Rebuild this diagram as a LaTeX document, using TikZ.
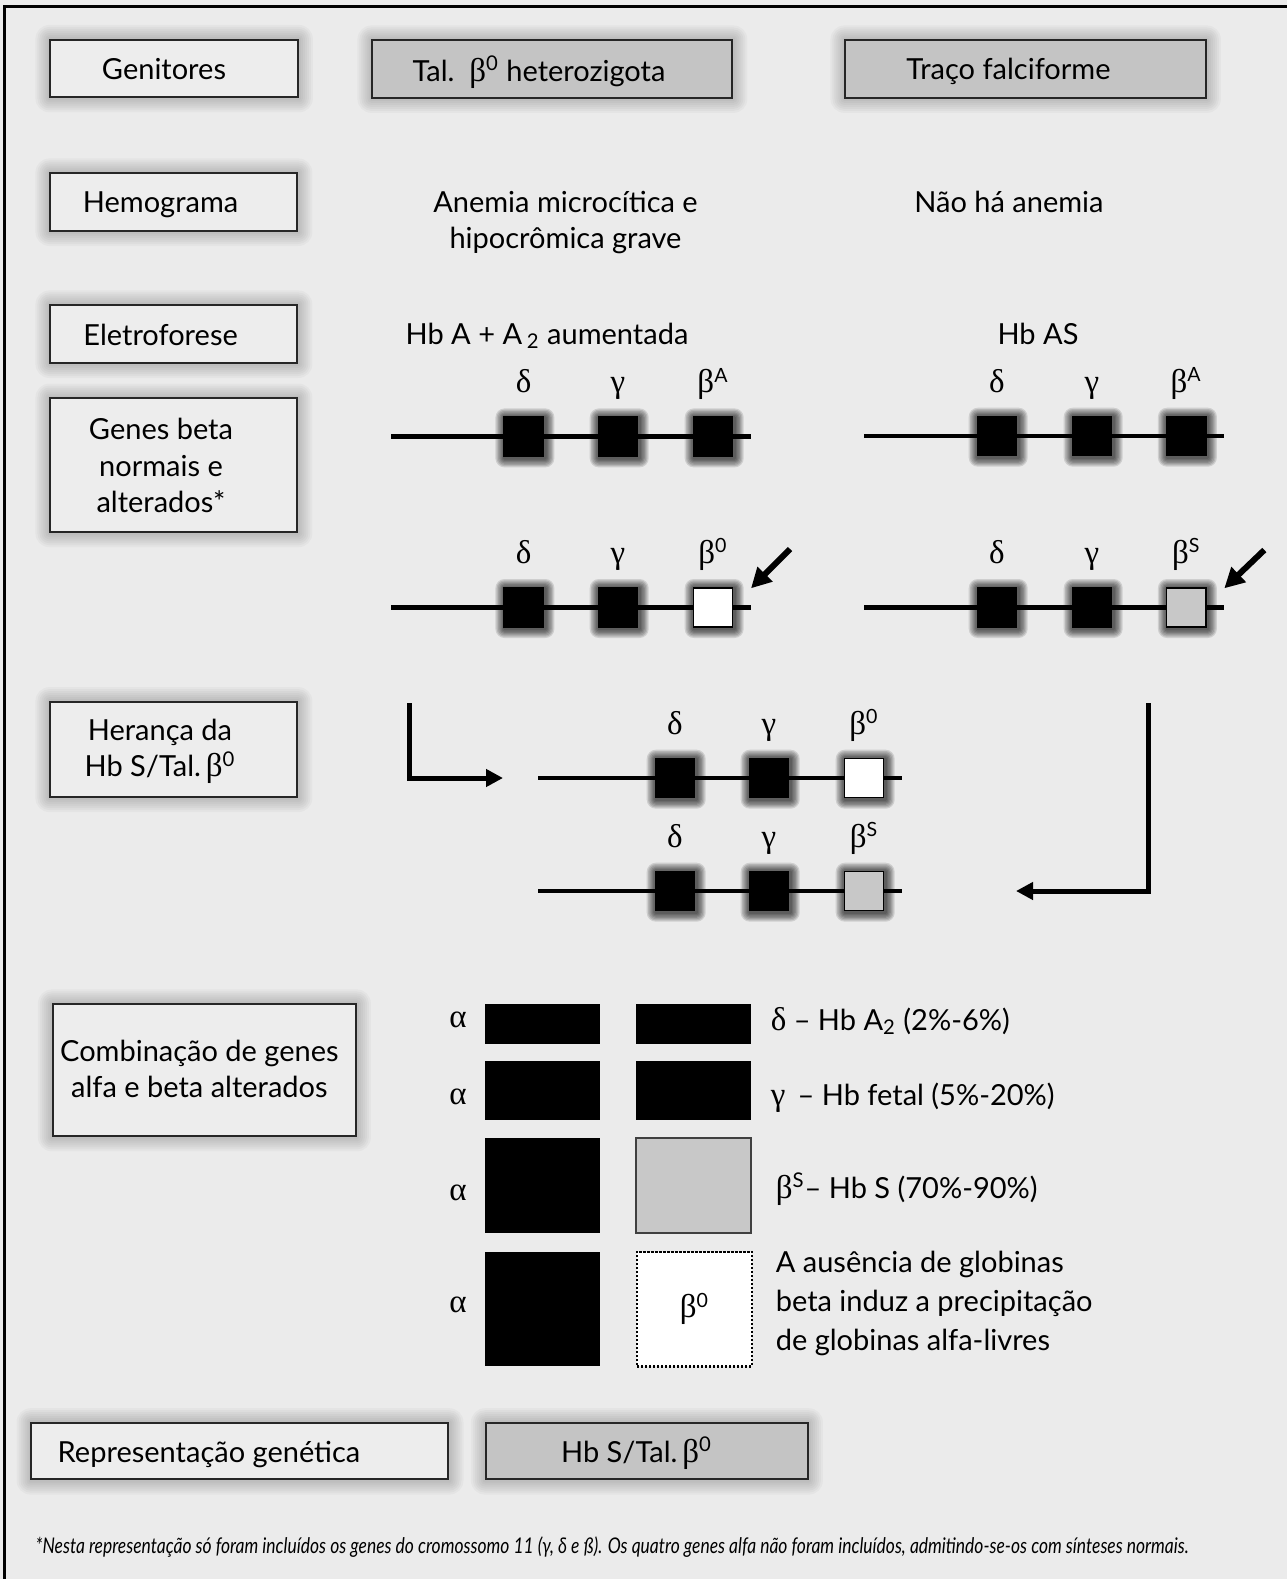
\documentclass[tikz,border=0pt]{standalone}
\usepackage{fontspec}
\usepackage{graphicx}
\setmainfont{Lato}
\newfontfamily\grk{Liberation Serif}
\usetikzlibrary{arrows.meta,backgrounds}
\definecolor{bg}{HTML}{EBEBEB}
\definecolor{boxfill}{HTML}{EDEDED}
\definecolor{darkfill}{HTML}{C4C4C4}
\definecolor{genegrey}{HTML}{C8C8C8}
\newcommand\gk[1]{{\grk\fontsize{16.5pt}{18pt}\selectfont #1}}
\newcommand\labfont{\fontsize{14.5pt}{18.2pt}\selectfont}
\newcommand\genefont{\fontsize{14pt}{16pt}\selectfont}
% soft glow behind a node: #1 node, #2 step (pt), #3 opacity per ring, #4 xshift/yshift (pt)
\newcommand\glow[4]{%
  \begin{scope}[on background layer]
  \foreach \i in {1,...,7}{
    \fill[black, opacity=#3, rounded corners=\i*#2]
      ([shift={(-\i*#2+#4,\i*#2-#4)}]#1.north west) rectangle ([shift={(\i*#2+#4,-\i*#2-#4)}]#1.south east);
  }
  \end{scope}
}
% gene row: #1 prefix, #2 x start, #3 x end, #4 y, #5 x delta, #6 x gamma, #7 x beta, #8 beta box style, #9 beta superscript
\newcommand\generow[9]{%
  \coordinate (#1s) at (#2,#4);
  \coordinate (#1e) at (#3,#4);
  \draw[gline] (#1s) -- (#1e);
  \node[gbox] (#1d) at (#5,#4) {};
  \node[gbox] (#1g) at (#6,#4) {};
  \node[#8] (#1b) at (#7,#4) {};
  \glow{#1d}{0.65pt}{0.12}{0.6pt}
  \glow{#1g}{0.65pt}{0.12}{0.6pt}
  \glow{#1b}{0.65pt}{0.12}{0.6pt}
  \node[glab] (#1dl) at (#5,#4-44) {\gk{δ}};
  \node[glab] (#1gl) at (#6,#4-44) {\gk{γ}};
  \node[glab] (#1bl) at (#7,#4-44) {\gk{β}\textsuperscript{#9}};
}
\begin{document}
\begin{tikzpicture}[x=0.5pt,y=-0.5pt,
  lbox/.style={draw=black!85, line width=1pt, fill=boxfill, inner sep=0pt},
  dbox/.style={lbox, fill=darkfill},
  txt/.style={font=\labfont, inner sep=0pt, align=center},
  gbox/.style={fill=black, draw=black, line width=0.8pt, minimum size=19.6pt, inner sep=0pt},
  wbox/.style={gbox, fill=white},
  sbox/.style={gbox, fill=genegrey},
  gline/.style={line width=2.4pt},
  glab/.style={font=\genefont, inner sep=0pt, anchor=base},
  larrow/.style={line width=2.5pt, -{Triangle[length=8.5pt,width=8.5pt]}},
  darrow/.style={line width=3pt, -{Triangle[length=10pt,width=10pt]}},
  cblack/.style={fill=black, inner sep=0pt, minimum width=57.4pt},
  cgrey/.style={fill=genegrey, draw=black!75, line width=1pt, inner sep=0pt, minimum width=57.4pt},
  cdot/.style={fill=white, draw=black, line width=1.1pt, dash pattern=on 1.1pt off 0.9pt, inner sep=0pt, minimum width=57.4pt}
]
\begin{scope}[on background layer]
\fill[bg] (0,0) rectangle (1287,1579);
\end{scope}
\useasboundingbox (0,0) rectangle (1287,1579);
\draw[line width=1.3pt] (4.5,1579) -- (4.5,6.5) -- (1287,6.5);

% left column boxes
\node[lbox, minimum width=123.75pt, minimum height=28.75pt] (bgen) at (173.75,68.25) {};
\node[dbox, minimum width=180pt, minimum height=28.75pt] (btal) at (552,68.75) {};
\node[dbox, minimum width=180.25pt, minimum height=28.75pt] (btraco) at (1025.25,68.75) {};
\node[lbox, minimum width=123.5pt, minimum height=28.8pt] (bhem) at (173.5,201.8) {};
\node[lbox, minimum width=123.5pt, minimum height=28.8pt] (bele) at (173.5,333.8) {};
\node[lbox, minimum width=123.5pt, minimum height=66.85pt] (bgenes) at (173.5,465) {};
\node[lbox, minimum width=123.5pt, minimum height=47.5pt] (bher) at (173.5,749.2) {};
\node[lbox, minimum width=151.5pt, minimum height=66pt] (bcomb) at (204,1070) {};
\node[lbox, minimum width=208.5pt, minimum height=28.2pt] (brep) at (239.6,1451) {};
\node[dbox, minimum width=161pt, minimum height=28.2pt] (bhbs) at (646.5,1451) {};
\foreach \b in {bgen,btal,btraco,bhem,bele,bgenes,bher,bcomb,brep,bhbs}{
  \glow{\b}{1pt}{0.028}{0.2pt}
}

% box texts
\node[txt, anchor=base] (tgen) at (164,79.5) {Genitores};
\node[txt, anchor=base] (ttal) at (539,81) {Tal.\ \ \gk{β}\textsuperscript{0} heterozigota};
\node[txt, anchor=base] (ttraco) at (1008.5,79.5) {Traço falciforme};
\node[txt, anchor=base] (them) at (160.6,212) {Hemograma};
\node[txt, anchor=base] (tele) at (160.6,345) {Eletroforese};
\node[txt] (tgenes) at (161,465.5) {Genes beta\\normais e\\alterados*};
\node[txt] (ther) at (160,751.5) {Herança da\\Hb S/Tal.\,\gk{β}\textsuperscript{0}};
\node[txt] (tcomb) at (199.4,1069) {Combinação de genes\\alfa e beta alterados};
\node[txt, anchor=base] (trep) at (209,1462) {Representação genética};
\node[txt, anchor=base] (thbs) at (636.5,1462) {Hb S/Tal.\,\gk{β}\textsuperscript{0}};

% column texts
\node[txt] (tanem) at (565.5,222.5) {Anemia microcítica e\\hipocrômica grave};
\node[txt, anchor=base] (tnao) at (1009,212.4) {Não há anemia};
\node[txt, anchor=base] (thba) at (547,344) {Hb A + A\,\textsubscript{2} aumentada};
\node[txt, anchor=base] (thbas) at (1038,344) {Hb AS};

% gene rows
\generow{ra}{391}{750.7}{436.7}{523.7}{618}{713}{gbox}{A}
\generow{rb}{391}{750.7}{607.3}{523.7}{618}{713}{wbox}{0}
\generow{rc}{864}{1224}{436}{997}{1092}{1186.2}{gbox}{A}
\generow{rd}{864}{1224}{607.3}{997}{1092}{1186.2}{sbox}{S}
\generow{re}{538}{902}{778}{675}{769}{864}{wbox}{0}
\generow{rf}{538}{902}{891}{675}{769}{864}{sbox}{S}

% diagonal arrows
\coordinate (a1s) at (790,549);
\coordinate (a1e) at (751,588.3);
\draw[darrow] (a1s) -- (a1e);
\coordinate (a2s) at (1264.3,550);
\coordinate (a2e) at (1224.3,588.3);
\draw[darrow] (a2s) -- (a2e);

% L arrows
\coordinate (h1s) at (409,703);
\coordinate (h1e) at (503,778);
\draw[larrow] (h1s) |- (h1e);
\coordinate (h2s) at (1148,703);
\coordinate (h2e) at (1016,891);
\draw[larrow] (h2s) |- (h2e);

% combination
\foreach \n/\y in {1/1027, 2/1104, 3/1200, 4/1312}{
  \node[glab] (alpha\n) at (458,\y) {\gk{α}};
}
\node[cblack, minimum height=20.15pt] (c11) at (542.8,1024.2) {};
\node[cblack, minimum height=20.15pt] (c12) at (693.8,1024.2) {};
\node[cblack, minimum height=29.2pt] (c21) at (542.8,1090.6) {};
\node[cblack, minimum height=29.2pt] (c22) at (693.8,1090.6) {};
\node[cblack, minimum height=47.3pt] (c31) at (542.8,1185.6) {};
\node[cgrey, minimum height=47.3pt] (c32) at (693.8,1185.6) {};
\node[cblack, minimum height=57.4pt] (c41) at (542.8,1309) {};
\node[cdot, minimum height=57.4pt, font=\genefont] (c42) at (694.5,1309) {\gk{β}\textsuperscript{0}};

\node[txt, anchor=base west] (ld) at (770.4,1030) {\gk{δ} – Hb A\textsubscript{2} (2\%-6\%)};
\node[txt, anchor=base west] (lg) at (770.4,1105) {\gk{γ} \,– Hb fetal (5\%-20\%)};
\node[txt, anchor=base west] (lb) at (775.4,1198.3) {\gk{β}\textsuperscript{S}– Hb S (70\%-90\%)};
\node[txt, anchor=north west, align=left, font=\fontsize{14.5pt}{19.4pt}\selectfont] (lp) at (775.4,1251) {A ausência de globinas\\beta induz a precipitação\\de globinas alfa-livres};

% footnote
\node[inner sep=0pt, anchor=base west] (foot) at (35.2,1553) {\resizebox{576.5pt}{\height}{\fontsize{10.8pt}{12pt}\selectfont\itshape *Nesta representação só foram incluídos os genes do cromossomo 11 (γ, δ e ß). Os quatro genes alfa não foram incluídos, admitindo-se-os com sínteses normais.}};
\end{tikzpicture}
\end{document}
